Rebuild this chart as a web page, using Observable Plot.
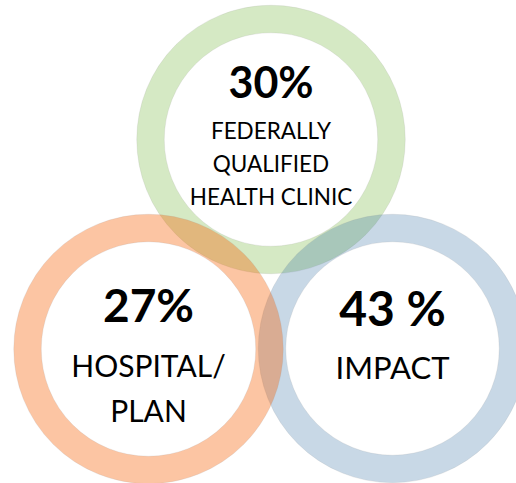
<!DOCTYPE html>
<html><head><meta charset="utf-8">
<script src="https://cdn.jsdelivr.net/npm/d3@7"></script>
<script src="https://cdn.jsdelivr.net/npm/@observablehq/plot@0.6"></script>
<style>html,body{margin:0;padding:0;background:#fff;} svg{display:block}</style>
</head><body><div id="chart"></div>
<script>
// ---- data ----
const groups = ["Federally Qualified Health Clinic", "Impact", "Hospital/Plan"];
const pctText = ["30%", "43 %", "27%"];
const labelText = ["FEDERALLY\nQUALIFIED\nHEALTH CLINIC", "IMPACT", "HOSPITAL/\nPLAN"];

// ---- layout & style (draw order: green, blue, orange) ----
const cx = [270.5, 392, 148];
const cy = [139, 348, 348.5];
const ringR = [120.5, 120.5, 121];
const ringW = 27.5;
const ringColor = ["rgb(150,200,107)", "rgb(35,99,155)", "rgb(247,94,0)"];
const ringAlpha = [0.4, 0.25, 0.36];
const pctY = [83.5, 310, 306.5];
const pctSize = [43, 48, 46];
const labY = [161, 363.5, 385];
const labSize = [22.5, 31, 30];
const labLH = [1.47, 1.5, 1.5];

const marks = [];
groups.forEach((g, i) => {
  const row = [{g, x: cx[i], y: cy[i], r: ringR[i]}];
  marks.push(Plot.dot(row, {x: "x", y: "y", r: "r", fill: "none",
    stroke: ringColor[i], strokeOpacity: ringAlpha[i], strokeWidth: ringW}));
  marks.push(Plot.dot(row, {x: "x", y: "y", r: d => d.r + ringW / 2, fill: "none",
    stroke: "#999", strokeOpacity: 0.2, strokeWidth: 0.8}));
  marks.push(Plot.dot(row, {x: "x", y: "y", r: d => d.r - ringW / 2, fill: "none",
    stroke: "#999", strokeOpacity: 0.2, strokeWidth: 0.8}));
});
groups.forEach((g, i) => {
  marks.push(Plot.text([{t: pctText[i], x: cx[i], y: pctY[i]}], {x: "x", y: "y", text: "t",
    fontSize: pctSize[i], fontWeight: 700, fontFamily: "Lato", fill: "#000"}));
  marks.push(Plot.text([{t: labelText[i], x: cx[i], y: labY[i]}], {x: "x", y: "y", text: "t",
    fontSize: labSize[i], fontFamily: "Lato", fill: "#000", lineHeight: labLH[i]}));
});

const chart = Plot.plot({
  width: 516, height: 483, margin: 0,
  x: {domain: [0, 516], range: [0, 516], axis: null},
  y: {domain: [0, 483], range: [0, 483], axis: null},
  r: {type: "identity"},
  style: {background: "#fff", overflow: "hidden"},
  marks
});
document.getElementById("chart").appendChild(chart);
</script>
</body></html>
